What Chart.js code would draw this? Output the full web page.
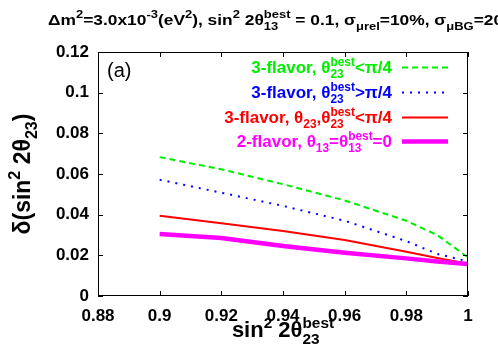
<!DOCTYPE html>
<html>
<head>
<meta charset="utf-8">
<script src="https://cdn.jsdelivr.net/npm/chart.js@4"></script>
<style>
  html, body { margin:0; padding:0; background:#fff; }
  canvas { display:block; }
</style>
</head>
<body>
<canvas id="c" width="498" height="349"></canvas>
<script>
// ===== DATA =====
const xVals = [0.9, 0.92, 0.94, 0.96, 0.98, 0.99, 1];
const green3fLow = [0.0683, 0.0623, 0.0550, 0.0470, 0.0370, 0.0300, 0.0190];
const blue3fHigh = [0.0572, 0.0508, 0.0443, 0.0370, 0.0270, 0.0207, 0.0170];
const red3fBoth  = [0.0395, 0.0358, 0.0320, 0.0275, 0.0218, 0.0187, 0.0158];
const mag2f      = [0.0305, 0.0285, 0.0246, 0.0213, 0.0185, 0.0170, 0.0157];
const xTicks = [0.88, 0.9, 0.92, 0.94, 0.96, 0.98, 1];
const yTicks = [0, 0.02, 0.04, 0.06, 0.08, 0.1, 0.12];

const FONT = '"Liberation Sans", Arial, sans-serif';

// text pieces: t = normal, sup = superscript, sub = subscript
function richWidth(ctx, parts, size, ss){
  let w = 0;
  for(const p of parts){
    ctx.font = `bold ${size}px ${FONT}`;
    w += ctx.measureText(p.t || "").width;
    ctx.font = `bold ${size*ss}px ${FONT}`;
    w += Math.max(p.sup ? ctx.measureText(p.sup).width : 0, p.sub ? ctx.measureText(p.sub).width : 0);
  }
  return w;
}

function drawRich(ctx, x, y, parts, size, color, align, sx=1, ss=0.7){
  const w = richWidth(ctx, parts, size, ss) * sx;
  if(align === "right") x -= w;
  else if(align === "center") x -= w/2;
  ctx.save();
  ctx.translate(x, y);
  ctx.scale(sx, 1);
  ctx.fillStyle = color;
  ctx.textAlign = "left";
  ctx.textBaseline = "alphabetic";
  let cx = 0;
  for(const p of parts){
    ctx.font = `bold ${size}px ${FONT}`;
    if(p.t){ ctx.fillText(p.t, cx, 0); cx += ctx.measureText(p.t).width; }
    ctx.font = `bold ${size*ss}px ${FONT}`;
    let sw = 0;
    if(p.sup){ ctx.fillText(p.sup, cx, -size*0.42); sw = ctx.measureText(p.sup).width; }
    if(p.sub){ ctx.fillText(p.sub, cx, size*0.3); sw = Math.max(sw, ctx.measureText(p.sub).width); }
    cx += sw;
  }
  ctx.restore();
}

const titleParts = [
  {t:"Δm", sup:"2"}, {t:"=3.0x10", sup:"-3"}, {t:"(eV", sup:"2"},
  {t:"), sin", sup:"2"}, {t:" 2θ", sup:"best", sub:"13"},
  {t:" = 0.1, σ", sub:"μrel"}, {t:"=10%, σ", sub:"μBG"}, {t:"=20%"}
];

const legendRows = [
  {parts:[{t:"3-flavor, θ", sup:"best", sub:"23"}, {t:"<π/4"}], color:"#00ee00", width:2, dash:[6,4]},
  {parts:[{t:"3-flavor, θ", sup:"best", sub:"23"}, {t:">π/4"}], color:"#0000ff", width:2, dash:[2,6]},
  {parts:[{t:"3-flavor, θ", sub:"23"}, {t:",θ", sup:"best", sub:"23"}, {t:"<π/4"}], color:"#ff0000", width:2, dash:[]},
  {parts:[{t:"2-flavor, θ", sub:"13"}, {t:"=θ", sup:"best", sub:"13"}, {t:"=0"}], color:"#ff00ff", width:4.5, dash:[]},
];

const decorations = {
  id: "decorations",
  afterDraw(chart){
    const ctx = chart.ctx;
    const a = chart.chartArea;
    const xs = chart.scales.x, ys = chart.scales.y;
    ctx.save();
    // frame + inward ticks on all sides
    ctx.strokeStyle = "#000";
    ctx.lineWidth = 1;
    ctx.strokeRect(a.left + 0.5, a.top + 0.5, a.right - a.left - 1, a.bottom - a.top - 1);
    ctx.beginPath();
    xTicks.forEach(v => {
      const px = Math.round(xs.getPixelForValue(v)) + 0.5;
      ctx.moveTo(px, a.bottom); ctx.lineTo(px, a.bottom - 5);
      ctx.moveTo(px, a.top); ctx.lineTo(px, a.top + 5);
    });
    yTicks.forEach(v => {
      const py = Math.round(ys.getPixelForValue(v)) + 0.5;
      ctx.moveTo(a.left, py); ctx.lineTo(a.left + 5, py);
      ctx.moveTo(a.right, py); ctx.lineTo(a.right - 5, py);
    });
    ctx.stroke();

    // panel tag
    ctx.fillStyle = "#000";
    ctx.font = `20px ${FONT}`;
    ctx.textAlign = "left";
    ctx.fillText("(a)", 107, 77);

    // legend
    const base = [73, 98, 123, 147];
    legendRows.forEach((r, i) => {
      drawRich(ctx, 392, base[i], r.parts, 17, r.color, "right");
      ctx.beginPath();
      ctx.strokeStyle = r.color;
      ctx.lineWidth = r.width;
      ctx.setLineDash(r.dash);
      ctx.moveTo(402, base[i] - 5.5);
      ctx.lineTo(448, base[i] - 5.5);
      ctx.stroke();
      ctx.setLineDash([]);
    });

    // top title (runs off the right edge as in the original)
    drawRich(ctx, 48, 25, titleParts, 15.5, "#000", "left", 1.12, 0.75);

    // x title
    drawRich(ctx, 283, 337, [{t:"sin", sup:"2"}, {t:" 2θ", sup:"best", sub:"23"}], 22, "#000", "center");

    // y title
    ctx.translate(30, 174);
    ctx.rotate(-Math.PI/2);
    drawRich(ctx, 0, 0, [{t:"δ(sin", sup:"2"}, {t:" 2θ", sub:"23"}, {t:")"}], 23, "#000", "center");
    ctx.restore();
  }
};

function series(ys, color, width, dash){
  return {
    data: xVals.map((x, i) => ({x, y: ys[i]})),
    borderColor: color,
    borderWidth: width,
    borderDash: dash,
    pointRadius: 0,
    tension: 0,
    fill: false,
  };
}

new Chart(document.getElementById("c"), {
  type: "line",
  data: {
    datasets: [
      series(mag2f, "#ff00ff", 4.5, []),
      series(red3fBoth, "#ff0000", 2, []),
      series(blue3fHigh, "#0000ff", 2, [2,6]),
      series(green3fLow, "#00ee00", 2, [6,4]),
    ]
  },
  options: {
    responsive: false,
    animation: false,
    devicePixelRatio: 1,
    layout: { padding: { top: 52, right: 30, left: 0, bottom: 0 } },
    plugins: { legend: {display:false}, tooltip: {enabled:false} },
    scales: {
      x: {
        type: "linear", min: 0.88, max: 1,
        afterFit: s => { s.height = 53; },
        afterBuildTicks: s => { s.ticks = xTicks.map(v => ({value:v})); },
        grid: { display:false, drawTicks:false },
        border: { display:false },
        ticks: {
          padding: 10, color:"#000",
          font: { family: FONT, size: 17, weight: "bold" },
          callback: v => String(+v.toFixed(2))
        }
      },
      y: {
        type: "linear", min: 0, max: 0.12,
        afterFit: s => { s.width = 98; },
        afterBuildTicks: s => { s.ticks = yTicks.map(v => ({value:v})); },
        grid: { display:false, drawTicks:false },
        border: { display:false },
        ticks: {
          padding: 9, color:"#000",
          font: { family: FONT, size: 17, weight: "bold" },
          callback: v => String(+v.toFixed(2))
        }
      }
    }
  },
  plugins: [decorations]
});
</script>
</body>
</html>
